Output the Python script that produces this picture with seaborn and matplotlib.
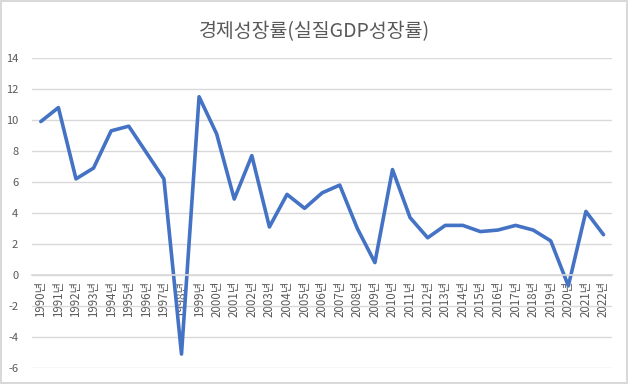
import seaborn as sns
import pandas as pd
import matplotlib.pyplot as plt

# 실질 GDP 성장률 (%)
years = list(range(1990, 2023))
growth = [9.9, 10.8, 6.2, 6.9, 9.3, 9.6, 7.9, 6.2, -5.1, 11.5,
          9.1, 4.9, 7.7, 3.1, 5.2, 4.3, 5.3, 5.8, 3.0, 0.8,
          6.8, 3.7, 2.4, 3.2, 3.2, 2.8, 2.9, 3.2, 2.9, 2.2,
          -0.7, 4.1, 2.6]
year_labels = [str(y) + '년' for y in years]
y_ticks = [-6, -4, -2, 0, 2, 4, 6, 8, 10, 12, 14]

df = pd.DataFrame({'pos': range(len(years)), 'growth': growth})

sns.set_theme(style='white')
plt.rcParams['font.family'] = ['Noto Sans CJK KR', 'DejaVu Sans']
plt.rcParams['axes.unicode_minus'] = False

fig = plt.figure(figsize=(6.28, 3.84), dpi=100, linewidth=1.5, edgecolor='#d9d9d9')
ax = fig.add_axes([0.051, 0.0417, 0.924, 0.8073])

# axis line sits at 0 (set first, it resets the ticks)
ax.spines['bottom'].set_position(('data', 0))
ax.spines['bottom'].set_color('#d9d9d9')
for side in ['top', 'right', 'left']:
    ax.spines[side].set_visible(False)

sns.lineplot(data=df, x='pos', y='growth', color='#4472C4', linewidth=2.6, ax=ax)

ax.set_ylim(-6, 14)
ax.set_yticks(y_ticks)
ax.set_xlim(-0.5, len(years) - 0.5)
ax.set_xticks(range(len(years)))
ax.set_xticklabels(year_labels, rotation=90, fontsize=8.3, color='#595959', va='top')
ax.tick_params(axis='y', labelsize=8, labelcolor='#595959', length=0, pad=10)
ax.tick_params(axis='x', length=0, pad=4)
ax.grid(axis='y', color='#d9d9d9', linewidth=1)
ax.set_axisbelow(True)
ax.set_xlabel('')
ax.set_ylabel('')

fig.suptitle('경제성장률(실질GDP성장률)', fontsize=14, color='#595959', y=0.945)

plt.savefig('out.png', dpi=100)
